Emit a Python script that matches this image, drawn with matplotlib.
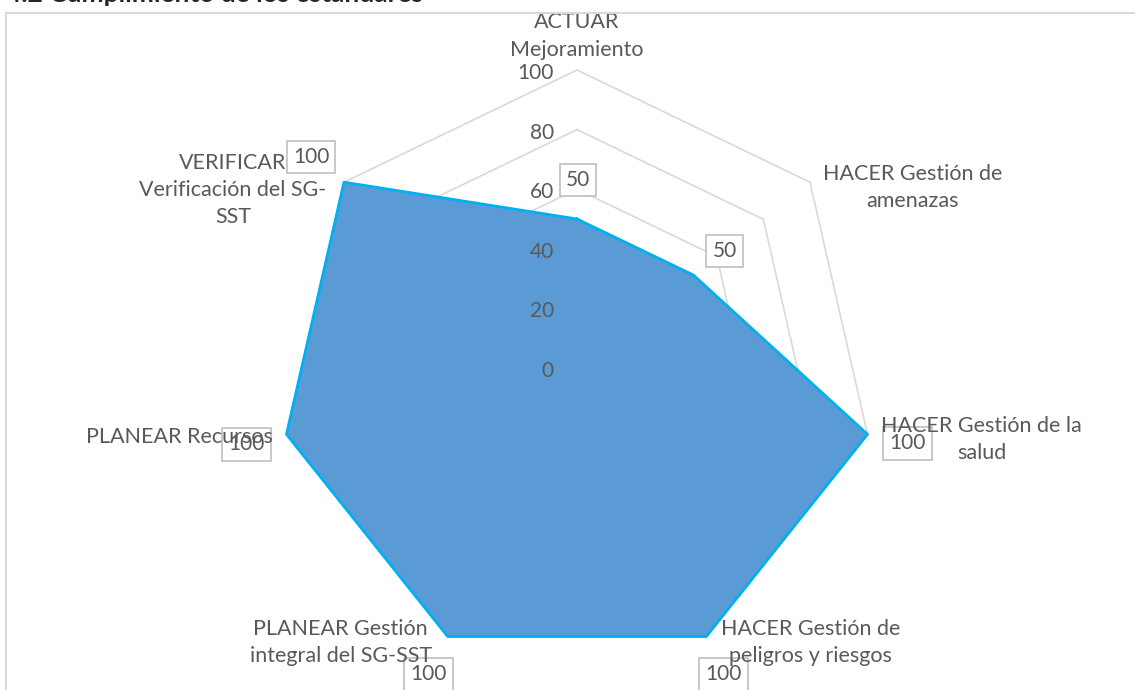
import numpy as np
import matplotlib
matplotlib.use("Agg")
import matplotlib.pyplot as plt
from matplotlib.patches import Rectangle

# data
categories = [
    "ACTUAR\nMejoramiento",
    "HACER Gestión de\namenazas",
    "HACER Gestión de la\nsalud",
    "HACER Gestión de\npeligros y riesgos",
    "PLANEAR Gestión\nintegral del SG-SST",
    "PLANEAR Recursos",
    "VERIFICAR\nVerificación del SG-\nSST",
]
values = [50, 50, 100, 100, 100, 100, 100]
ticks = [0, 20, 40, 60, 80, 100]
title = "4.2 Cumplimiento de los estándares"

# pixel offsets for labels (relative to the points)
cat_offsets = [(0, 34), (103, -5), (114, -5), (104, -6), (-107, -6), (-107, -3), (-111, -8)]
val_offsets = [(1, 39), (31, 24), (40, -9), (17, -38), (-19, -38), (-40, -10), (-33, 25)]

plt.rcParams['font.family'] = ['Lato', 'DejaVu Sans']
txt_color = '#595959'
grid_color = '#d9d9d9'

W, H = 1135, 690
fig = plt.figure(figsize=(W / 100, H / 100), dpi=100)

cx, cy, R = 577, 368, 298
ax = fig.add_axes([(cx - R) / W, (H - cy - R) / H, 2 * R / W, 2 * R / H], projection='polar')
ax.set_theta_zero_location('N')
ax.set_theta_direction(-1)
ax.set_ylim(0, 100)
ax.axis('off')

n = len(categories)
theta = np.arange(n) * 2 * np.pi / n
theta_c = np.append(theta, theta[0])

# rings
for t in ticks[1:]:
    ax.plot(theta_c, [t] * (n + 1), color=grid_color, lw=1.2, zorder=1, clip_on=False)

vals_c = values + [values[0]]
ax.fill(theta_c, vals_c, color='#5b9bd5', zorder=2, clip_on=False)
ax.plot(theta_c, vals_c, color='#00b0f0', lw=2, zorder=3, clip_on=False)

# radial tick labels
for t in ticks:
    ax.annotate(str(t), xy=(0, t), xytext=(-23, -3), textcoords='offset pixels',
                ha='right', va='center', fontsize=15, color=txt_color, zorder=5,
                annotation_clip=False)

# value labels
for th, v, off in zip(theta, values, val_offsets):
    ax.annotate(str(v), xy=(th, v), xytext=off, textcoords='offset pixels',
                ha='center', va='center', fontsize=15, color=txt_color, zorder=4,
                annotation_clip=False,
                bbox=dict(boxstyle='square,pad=0.3', fc='white', ec='#bfbfbf', lw=1.2))

# category labels
for th, lab, off in zip(theta, categories, cat_offsets):
    ax.annotate(lab, xy=(th, 100), xytext=off, textcoords='offset pixels',
                ha='center', va='center', multialignment='center', fontsize=15.5,
                color=txt_color, linespacing=1.45, zorder=6, annotation_clip=False)

# chart area border
fig.patches.append(Rectangle((6 / W, -0.05), 1.2, 1.05 - 13 / H, transform=fig.transFigure,
                             fill=False, ec=grid_color, lw=1.5))
fig.text(6 / W, 1 - 2 / H, title, ha='left', va='baseline', fontsize=19,
         fontweight='bold', color='#262626')

fig.savefig('out.png', dpi=100)
